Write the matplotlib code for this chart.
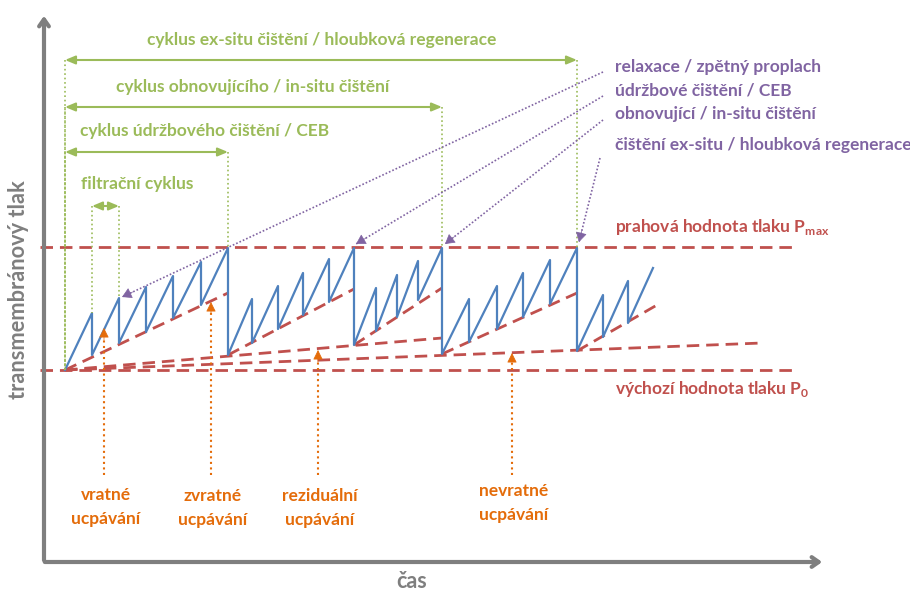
import matplotlib.pyplot as plt

plt.rcParams['font.family'] = ['Lato', 'DejaVu Sans']
plt.rcParams['font.weight'] = 'bold'
plt.rcParams['mathtext.fontset'] = 'custom'
plt.rcParams['mathtext.rm'] = 'Lato:bold'

# schema drawn in picture units (x to the right, y downwards)
saw_x = [65, 92, 92, 119, 119, 146, 146, 173, 173, 201, 201, 228, 228, 252, 252, 278, 278,
         303, 303, 329, 329, 354, 354, 376, 376, 397, 397, 418, 418, 442, 442, 469, 469,
         497, 497, 523, 523, 550, 550, 577, 577, 603, 603, 628, 628, 653]
saw_y = [370, 313, 355, 298, 343, 287, 332, 276, 318, 262, 305, 248, 355, 299, 343, 286, 329,
         273, 315, 259, 302, 248, 345, 288, 331, 275, 317, 261, 300, 248, 354, 299, 342,
         286, 329, 273, 317, 260, 304, 248, 351, 295, 337, 281, 323, 268]

p0 = 370
pmax = 247
# trend lines (start x, start y, end x, end y)
trend_lines = [(65, 370, 228, 293), (228, 355, 354, 289), (354, 345, 442, 288),
               (442, 354, 577, 293), (577, 351, 657, 305),
               (65, 370, 442, 338), (65, 370, 762, 343)]

cycle_labels = ['cyklus ex-situ čištění / hloubková regenerace',
                'cyklus obnovujícího / in-situ čištění',
                'cyklus údržbového čištění / CEB',
                'filtrační cyklus']
cycle_start = [65, 65, 65, 92]
cycle_end = [577, 442, 228, 119]
cycle_y = [60, 107, 152, 206]
cycle_text = [(322, 40), (253, 87), (205, 131), (137, 184)]
cycle_drop = [(370, 248), (370, 248), (370, 248), (313, 298)]

clean_labels = ['relaxace / zpětný proplach', 'údržbové čištění / CEB',
                'obnovující / in-situ čištění', 'čištění ex-situ / hloubková regenerace']
clean_label_y = [67, 91, 114, 145]
clean_from = [(603, 72), (603, 96), (603, 120), (600, 158)]
clean_to = [(122, 297), (356, 244), (445, 244), (579, 242)]

foul_labels = ['vratné\nucpávání', 'zvratné\nucpávání', 'reziduální\nucpávání',
               'nevratné\nucpávání']
foul_x = [104, 211, 318, 512]
foul_top = [328, 302, 350, 353]
foul_label_y = [507, 508, 508, 503]

gray = '#7f7f7f'
blue = '#4f81bd'
red = '#c0504d'
green = '#9bbb59'
purple = '#8064a2'
orange = '#e46c0a'

fig = plt.figure(figsize=(9.1, 5.96), dpi=100)
ax = fig.add_axes([0, 0, 1, 1])
ax.set_xlim(0, 910)
ax.set_ylim(596, 0)
ax.axis('off')

# axes of the schema
ax.annotate('', xy=(44, 13), xytext=(44, 563),
            arrowprops=dict(arrowstyle='->,head_length=0.5,head_width=0.35', color=gray, lw=3))
ax.annotate('', xy=(825, 562), xytext=(42, 562),
            arrowprops=dict(arrowstyle='->,head_length=0.5,head_width=0.35', color=gray, lw=3))
ax.text(19, 290, 'transmembránový tlak', rotation=90, ha='center', va='center',
        color=gray, fontsize=15.7)
ax.text(412, 582, 'čas', ha='center', va='center', color=gray, fontsize=15.5)

# threshold lines
ax.plot([40, 792], [pmax, pmax], color=red, lw=2, ls=(0, (4.5, 2.5)))
ax.plot([40, 792], [p0, p0], color=red, lw=2, ls=(0, (4.5, 2.5)))
for x0, y0, x1, y1 in trend_lines:
    ax.plot([x0, x1], [y0, y1], color=red, lw=2, ls=(0, (4.5, 2.5)))
ax.text(615, 227, r'prahová hodnota tlaku P$_{\mathrm{max}}$', color=red, fontsize=12.5,
        va='center')
ax.text(615, 389, r'výchozí hodnota tlaku P$_{\mathrm{0}}$', color=red, fontsize=12.5,
        va='center')

# sawtooth of pressure
ax.plot(saw_x, saw_y, color=blue, lw=1.6)

# cycles
for lab, xs, xe, y, (tx, ty), (d0, d1) in zip(cycle_labels, cycle_start, cycle_end,
                                              cycle_y, cycle_text, cycle_drop):
    ax.annotate('', xy=(xs, y), xytext=(xe, y),
                arrowprops=dict(arrowstyle='<|-|>,head_length=0.6,head_width=0.25',
                                color=green, lw=1.5, shrinkA=0, shrinkB=0))
    ax.plot([xs, xs], [y, d0], color=green, lw=1.2, ls=':')
    ax.plot([xe, xe], [y, d1], color=green, lw=1.2, ls=':')
    ax.text(tx, ty, lab, color=green, fontsize=12.5, ha='center', va='center')

# cleaning pointers
for lab, ly, (fx, fy), (tx, ty) in zip(clean_labels, clean_label_y, clean_from, clean_to):
    ax.plot([fx, tx], [fy, ty], color=purple, lw=1.2, ls=(0, (1, 1.2)))
    dx, dy = fx - tx, fy - ty
    d = (dx ** 2 + dy ** 2) ** 0.5
    ax.annotate('', xy=(tx, ty), xytext=(tx + dx / d * 12, ty + dy / d * 12),
                arrowprops=dict(arrowstyle='-|>,head_length=0.6,head_width=0.35',
                                color=purple, lw=0.5, shrinkA=0, shrinkB=0))
    ax.text(615, ly, lab, color=purple, fontsize=12.5, va='center')

# fouling types
for lab, x, top, ly in zip(foul_labels, foul_x, foul_top, foul_label_y):
    ax.plot([x, x], [475, top + 10], color=orange, lw=1.5, ls=':')
    ax.annotate('', xy=(x, top), xytext=(x, top + 12),
                arrowprops=dict(arrowstyle='-|>,head_length=0.6,head_width=0.3',
                                color=orange, lw=0.5, shrinkA=0, shrinkB=0))
    ax.text(x + 2, ly, lab, color=orange, fontsize=12.5, ha='center', va='center',
            linespacing=1.6)

fig.savefig('out.png', dpi=100)
